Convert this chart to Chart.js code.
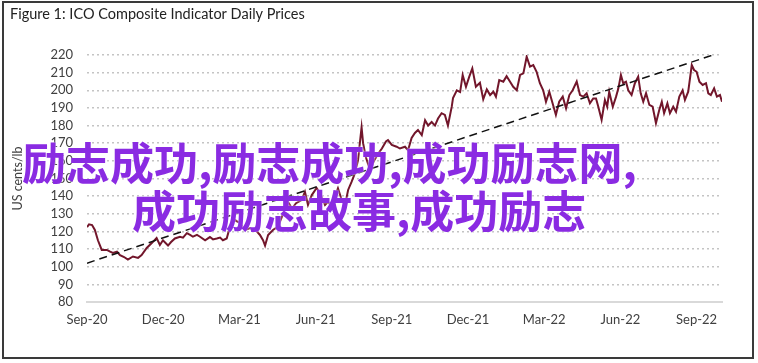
<!DOCTYPE html>
<html>
<head>
<meta charset="utf-8">
<script src="https://cdn.jsdelivr.net/npm/chart.js@4.4.0/dist/chart.umd.min.js"></script>
<style>
  html, body { margin: 0; padding: 0; background: #fff; }
  .wrap { position: relative; width: 758px; height: 363px; }
  .frame { position: absolute; left: 2px; top: 1px; width: 752px; height: 358px; box-sizing: border-box; border: 2px solid #3a3a3a; pointer-events: none; }
  .mark { position: absolute; font-family: "Noto Sans CJK SC", sans-serif; font-weight: 700; font-size: 44px; line-height: 48px; color: #8a2be2; white-space: nowrap; text-shadow: 0 0 2px #fff; }
</style>
</head>
<body>
<div class="wrap">
  <canvas id="chart" width="758" height="363"></canvas>
  <div class="frame"></div>
  <div class="mark" style="left:22px; top:137px;">励志成功,励志成功,成功励志网,</div>
  <div class="mark" style="left:132px; top:185px;">成功励志故事,成功励志</div>
</div>
<script>
// months counted from 1 Sep 2020
const tickMonths = [0, 3, 6, 9, 12, 15, 18, 21, 24];
const tickLabels = ['Sep-20', 'Dec-20', 'Mar-21', 'Jun-21', 'Sep-21', 'Dec-21', 'Mar-22', 'Jun-22', 'Sep-22'];

const priceMonths = [
  0, 0.08, 0.20, 0.31, 0.43, 0.58, 0.78, 0.91, 1.02, 1.18, 1.30, 1.46, 1.61, 1.81, 2.01, 2.15, 2.35, 2.55, 2.74, 2.87,
  2.99, 3.19, 3.31, 3.46, 3.66, 3.78, 3.93, 4.06, 4.17, 4.33, 4.45, 4.65, 4.84, 4.96, 5.11, 5.24, 5.35, 5.50, 5.63, 5.75,
  5.87, 6.02, 6.22, 6.42, 6.54, 6.68, 6.81, 6.93, 7.01, 7.13, 7.32, 7.52, 7.60, 7.80, 7.91, 8.07, 8.23, 8.45, 8.58, 8.70,
  8.85, 9.04, 9.17, 9.37, 9.49, 9.63, 9.76, 9.88, 10.03, 10.16, 10.28, 10.42, 10.55, 10.67, 10.81, 10.87, 10.98, 11.14, 11.30, 11.46,
  11.61, 11.77, 11.85, 12.00, 12.19, 12.32, 12.52, 12.64, 12.78, 12.91, 13.03, 13.18, 13.31, 13.43, 13.57, 13.70, 13.82, 13.96, 14.09, 14.21,
  14.36, 14.41, 14.56, 14.69, 14.79, 14.92, 15.05, 15.17, 15.31, 15.47, 15.60, 15.74, 15.87, 16.00, 16.10, 16.23, 16.39, 16.52, 16.65, 16.78,
  16.92, 17.05, 17.18, 17.31, 17.44, 17.57, 17.70, 17.83, 17.96, 18.07, 18.20, 18.33, 18.46, 18.59, 18.73, 18.86, 18.99, 19.12, 19.28, 19.41,
  19.54, 19.67, 19.80, 19.93, 20.04, 20.13, 20.26, 20.39, 20.48, 20.56, 20.70, 20.83, 20.92, 21.02, 21.11, 21.22, 21.31, 21.44, 21.57, 21.70,
  21.80, 21.90, 22.01, 22.14, 22.27, 22.40, 22.53, 22.63, 22.72, 22.85, 22.95, 23.08, 23.19, 23.32, 23.45, 23.54, 23.67, 23.81, 23.90, 24.00,
  24.11, 24.24, 24.37, 24.46, 24.56, 24.69, 24.80, 24.92, 25.00
];
const prices = [
  122.5, 124, 123.6, 120.8, 115, 109.5, 109.5, 108.5, 107.8, 108.5, 106.6, 105.5, 104, 105.8, 105, 106.6, 110.6, 113.4, 116.3, 112.3,
  115, 112, 114, 116, 117, 116.5, 119, 118, 117, 118, 117, 115, 116.8, 115.5, 116, 116.5, 115, 116, 122.7, 127.5,
  126, 124.8, 120.8, 121.9, 121, 120, 118, 115, 112, 118, 120.8, 122.7, 125.5, 133, 136.8, 133, 136, 137.8, 142.5, 135,
  140.6, 144.6, 141.8, 135, 136.8, 134, 139.7, 144.4, 137.8, 135, 143.5, 148.2, 153, 160.5, 179, 170, 162, 155, 160, 164,
  167, 171, 171.8, 169, 168, 167, 168, 166, 173, 175.8, 177.5, 174.6, 183, 180, 182, 180, 184, 187, 186, 180,
  190.7, 195.6, 200, 199, 208.7, 202, 207.7, 212.4, 202, 204.3, 194.9, 200.5, 197.3, 199.2, 196.4, 205.8, 204.9, 208, 205, 202,
  200, 208.7, 209.6, 219, 213.4, 214.3, 210.5, 204, 200, 193.5, 199.2, 192.6, 186, 193.5, 196.4, 189.8, 197.3, 200, 205, 197.3,
  196.4, 198.3, 192.6, 195.4, 195.4, 190.7, 183.2, 194.5, 190.7, 199.2, 190.7, 196.4, 201.1, 208.7, 204, 204.9, 200, 197.3, 204, 207.7,
  198.3, 193.5, 198.3, 191.7, 190.7, 181.3, 188.8, 193.5, 187, 192.6, 187, 190.7, 187.9, 196.4, 200, 194.5, 199.2, 214.3, 211.5, 210.5,
  204.9, 203, 204, 198.3, 197.3, 201.1, 196.4, 197.3, 193.5
];

const trendMonths = [0, 25];
const trendValues = [102, 221.7];

const tickColor = '#404040';
const tickFont = { family: 'Lato, sans-serif', size: 13 };

new Chart(document.getElementById('chart'), {
  type: 'line',
  data: {
    datasets: [
      {
        label: 'Trend',
        data: trendMonths.map((m, i) => ({ x: m, y: trendValues[i] })),
        borderColor: '#111',
        borderWidth: 1.5,
        borderDash: [8, 5],
        pointRadius: 0
      },
      {
        label: 'ICO Composite Indicator',
        data: priceMonths.map((m, i) => ({ x: m, y: prices[i] })),
        borderColor: '#72162b',
        borderWidth: 2,
        pointRadius: 0,
        tension: 0
      }
    ]
  },
  options: {
    responsive: false,
    animation: false,
    layout: { padding: { left: 10, right: 36, top: 0, bottom: 0 } },
    plugins: {
      legend: { display: false },
      tooltip: { enabled: false },
      title: {
        display: true,
        text: 'Figure 1: ICO Composite Indicator Daily Prices',
        align: 'start',
        color: '#222',
        font: { family: 'Lato, sans-serif', size: 14.5, weight: 'normal' },
        padding: { top: 6, bottom: 31.6 }
      }
    },
    scales: {
      x: {
        type: 'linear',
        min: 0,
        max: 25,
        afterBuildTicks: scale => { scale.ticks = tickMonths.map(v => ({ value: v })); },
        afterFit: scale => { scale.height = 61; },
        grid: { display: false, drawTicks: false },
        border: { display: true, color: '#d9d9d9', width: 2 },
        ticks: {
          color: tickColor,
          font: tickFont,
          padding: 10,
          maxRotation: 0,
          autoSkip: false,
          callback: (v) => tickLabels[tickMonths.indexOf(v)]
        }
      },
      y: {
        min: 80,
        max: 220,
        afterFit: scale => { scale.width = 77; },
        border: { display: false, dash: [2, 3] },
        grid: {
          drawTicks: false,
          lineWidth: 1.5,
          color: ctx => (ctx.tick && ctx.tick.value === 80) ? 'rgba(0,0,0,0)' : '#c4c4c4'
        },
        ticks: { stepSize: 10, autoSkip: false, color: tickColor, font: tickFont, padding: 14 },
        title: {
          display: true,
          text: 'US cents/lb',
          color: tickColor,
          font: { family: 'Lato, sans-serif', size: 12.5 },
          padding: 0
        }
      }
    }
  }
});
</script>
</body>
</html>
